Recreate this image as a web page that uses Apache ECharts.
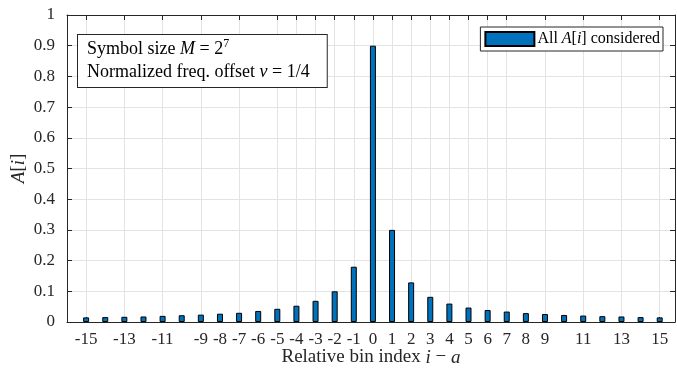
<!DOCTYPE html>
<html>
<head>
<meta charset="utf-8">
<script src="https://cdn.jsdelivr.net/npm/echarts@6/dist/echarts.min.js"></script>
<style>
  html, body { margin: 0; padding: 0; background: #fff; }
  #chart { width: 677px; height: 371px; }
</style>
</head>
<body>
<div id="chart"></div>
<script>
// Relative bin index i - a and the magnitude A[i] of each bin
const binIndex = [-15, -14, -13, -12, -11, -10, -9, -8, -7, -6, -5, -4, -3, -2, -1,
                  0, 1, 2, 3, 4, 5, 6, 7, 8, 9, 10, 11, 12, 13, 14, 15];
const amplitude = [0.015, 0.016, 0.017, 0.018, 0.020, 0.022, 0.024, 0.027, 0.030, 0.036, 0.043,
                   0.053, 0.069, 0.100, 0.180,
                   0.900, 0.300, 0.129, 0.082, 0.060, 0.047, 0.039, 0.034, 0.029, 0.026,
                   0.023, 0.021, 0.019, 0.018, 0.016, 0.015];

// Axis ticks / labels
const xTickValues = [-15, -13, -11, -9, -7, -5, -4, -3, -2, -1, 0, 1, 2, 3, 4, 5, 6, 7, 9, 11, 13, 15];
const xLabelValues = [-15, -13, -11, -9, -8, -7, -6, -5, -4, -3, -2, -1, 0, 1, 2, 3, 4, 5, 6, 7, 8, 9, 11, 13, 15];
const yLabels = ['0', '0.1', '0.2', '0.3', '0.4', '0.5', '0.6', '0.7', '0.8', '0.9', '1'];

const seriesName = 'All A[i] considered';
const FONT = '"Liberation Serif", "DejaVu Serif", serif';
const AX = '#262626';
const GRID = '#e3e3e3';
const italic = { fontStyle: 'italic', fontFamily: FONT };

const chart = echarts.init(document.getElementById('chart'), null, { renderer: 'canvas' });

const X_MIN = -16, X_MAX = 15.8;

chart.setOption({
  animation: false,
  backgroundColor: '#fff',
  textStyle: { fontFamily: FONT, color: AX },
  grid: { left: 67, right: 2, top: 15, bottom: 49, containLabel: false, outerBoundsMode: 'none' },
  legend: {
    data: [seriesName],
    right: 14,
    top: 27,
    orient: 'horizontal',
    backgroundColor: '#fff',
    borderColor: AX,
    borderWidth: 1,
    borderRadius: 0,
    padding: [4, 3, 4, 4],
    itemWidth: 49,
    itemHeight: 14,
    itemGap: 0,
    icon: 'rect',
    selectedMode: false,
    formatter: () => 'All {i|A}[{i|i}] considered',
    textStyle: {
      fontFamily: FONT, fontSize: 16, color: '#000', padding: [0, 0, 0, -2],
      rich: { i: Object.assign({ fontSize: 16, color: '#000' }, italic) }
    }
  },
  xAxis: [
    {
      type: 'value', position: 'bottom', min: X_MIN, max: X_MAX,
      name: 'Relative bin index {i|i} \u2212 {i|a}',
      nameLocation: 'middle', nameGap: 26, nameMoveOverlap: false,
      nameTextStyle: {
        fontFamily: FONT, fontSize: 19, color: AX,
        rich: { i: Object.assign({ fontSize: 19, color: AX }, italic) }
      },
      axisLine: { show: true, onZero: false, lineStyle: { color: AX, width: 1 } },
      axisTick: { show: true, inside: true, length: 5, lineStyle: { color: AX }, customValues: xTickValues },
      axisLabel: {
        show: true, margin: 9, fontFamily: FONT, fontSize: 17, color: AX,
        customValues: xLabelValues,
        formatter: v => String(v)
      },
      splitLine: { show: false }
    },
    {
      type: 'value', position: 'top', min: X_MIN, max: X_MAX,
      axisLine: { show: true, onZero: false, lineStyle: { color: AX, width: 1 } },
      axisTick: { show: true, inside: true, length: 5, lineStyle: { color: AX }, customValues: xTickValues },
      axisLabel: { show: false },
      splitLine: { show: false }
    }
  ],
  yAxis: [
    {
      type: 'value', position: 'left', min: 0, max: 1, interval: 0.1,
      name: '{i|A}[{i|i}]',
      nameLocation: 'middle', nameGap: 39, nameRotate: 90, nameMoveOverlap: false,
      nameTextStyle: {
        fontFamily: FONT, fontSize: 19, color: AX,
        rich: { i: Object.assign({ fontSize: 19, color: AX }, italic) }
      },
      axisLine: { show: true, onZero: false, lineStyle: { color: AX, width: 1 } },
      axisTick: { show: true, inside: true, length: 5, lineStyle: { color: AX } },
      axisLabel: {
        margin: 12, fontFamily: FONT, fontSize: 17, color: AX,
        formatter: (v) => yLabels[Math.round(v * 10)]
      },
      splitLine: { show: true, lineStyle: { color: GRID, width: 1 } }
    },
    {
      type: 'value', position: 'right', min: 0, max: 1, interval: 0.1,
      axisLine: { show: true, onZero: false, lineStyle: { color: AX, width: 1 } },
      axisTick: { show: true, inside: true, length: 5, lineStyle: { color: AX } },
      axisLabel: { show: false },
      splitLine: { show: false }
    }
  ],
  graphic: [
    {
      type: 'text',
      left: 77,
      top: 34,
      z: 100,
      style: {
        text: 'Symbol size {i|M} = 2{sup|7}\nNormalized freq. offset {i|\u03bd} = 1/4',
        font: '18px ' + FONT,
        fill: '#000',
        lineHeight: 23,
        backgroundColor: '#fff',
        borderColor: AX,
        borderWidth: 1,
        padding: [3, 17, 3, 9],
        rich: {
          i: { fontStyle: 'italic', fontFamily: FONT, fontSize: 18, fill: '#000', lineHeight: 23 },
          sup: { fontFamily: FONT, fontSize: 12, fill: '#000', verticalAlign: 'top', lineHeight: 23, padding: [0, 0, 6, 0] }
        }
      }
    }
  ],
  series: [
    {
      // vertical grid lines at the tick positions, kept behind the bars
      type: 'line',
      xAxisIndex: 0, yAxisIndex: 0,
      data: [],
      silent: true,
      z: 0,
      markLine: {
        silent: true,
        z: 0,
        symbol: 'none',
        label: { show: false },
        lineStyle: { color: GRID, type: 'solid', width: 1 },
        emphasis: { disabled: true },
        data: xTickValues.map(v => ({ xAxis: v }))
      }
    },
    {
      name: seriesName,
      type: 'bar',
      xAxisIndex: 0, yAxisIndex: 0,
      barWidth: 6,
      z: 3,
      itemStyle: { color: '#0072BD', borderColor: '#000', borderWidth: 1 },
      data: binIndex.map((x, k) => [x, amplitude[k]])
    }
  ]
});
</script>
</body>
</html>
